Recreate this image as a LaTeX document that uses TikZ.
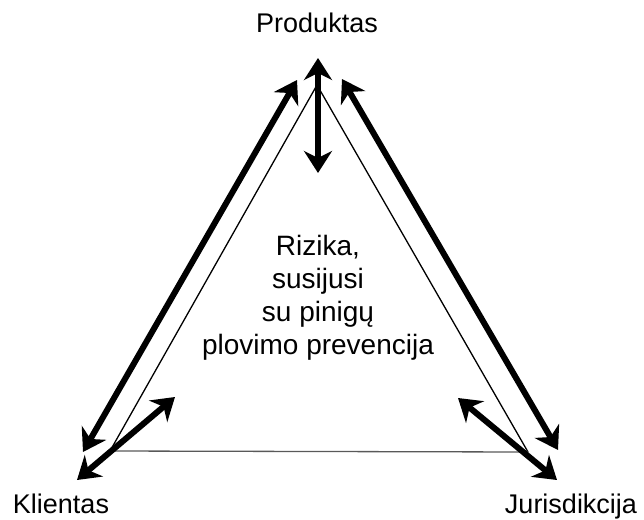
\documentclass[tikz,border=0pt]{standalone}
\usepackage{fontspec}
\setmainfont{Liberation Sans}
\usetikzlibrary{arrows.meta}
\begin{document}
\begin{tikzpicture}[x=1pt, y=-1pt,
		label/.style={font=\fontsize{27}{33}\selectfont, inner sep=0pt},
		side/.style={line width=1.3pt},
		link/.style={line width=6pt, {Stealth[length=22pt, width=28pt, inset=7pt]}-{Stealth[length=22pt, width=28pt, inset=7pt]}}]
		\useasboundingbox (0, 0) rectangle (644, 519);
		% labels
		\node[label, anchor=base] (produktas) at (317, 33) {Produktas};
		\node[label, anchor=base] (klientas) at (61, 513) {Klientas};
		\node[label, anchor=base] (jurisdikcija) at (571, 513) {Jurisdikcija};
		\node[label, font=\fontsize{28}{33}\selectfont, align=center] (rizika) at (318, 298) {Rizika,\\susijusi\\su pinigų\\plovimo prevencija};
		% triangle corners
		\coordinate (top) at (317, 85);
		\coordinate (left) at (110, 451);
		\coordinate (right) at (528, 452);
		\draw[side] (left) -- (top) -- (right);
		\draw[side, black!65] (left) -- (right);
		% arrow ends
		\coordinate (t1) at (318, 58);
		\coordinate (t2) at (318, 173);
		\coordinate (l1) at (297, 80);
		\coordinate (l2) at (83, 452);
		\coordinate (r1) at (342, 79);
		\coordinate (r2) at (558, 450);
		\coordinate (k1) at (77, 480);
		\coordinate (k2) at (175, 397);
		\coordinate (j1) at (458, 398);
		\coordinate (j2) at (557, 480);
		\draw[link] (t1) -- (t2);
		\draw[link] (l1) -- (l2);
		\draw[link] (r1) -- (r2);
		\draw[link] (k1) -- (k2);
		\draw[link] (j1) -- (j2);
	\end{tikzpicture}
\end{document}
